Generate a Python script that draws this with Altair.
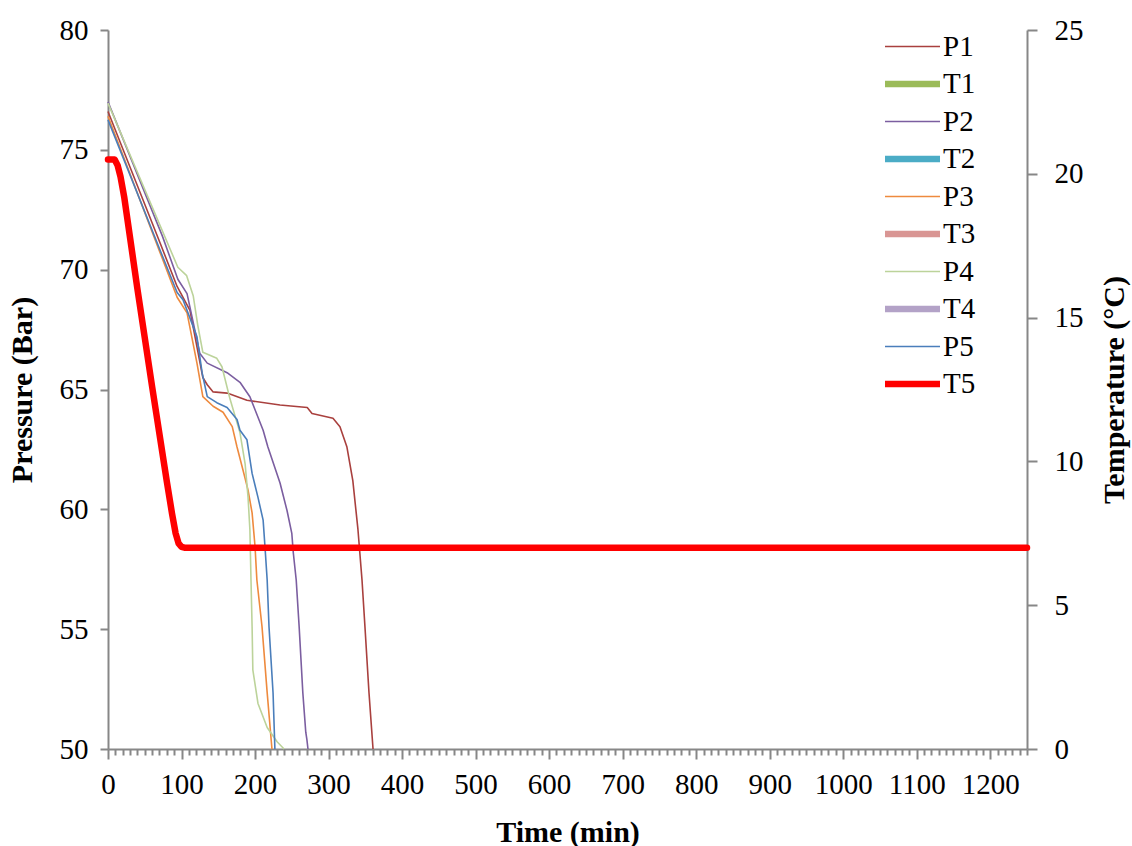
import altair as alt
import pandas as pd

# Series shown in the legend, in legend order, with their line colours and widths
series_names = ["P1", "T1", "P2", "T2", "P3", "T3", "P4", "T4", "P5", "T5"]
series_colors = ["#A9403E", "#9BBB59", "#7B5EA0", "#4BACC6", "#EE8A3E",
                 "#D99694", "#BCD39A", "#B3A2C7", "#4A7EBB", "#FF0000"]
series_widths = [1.6, 6.5, 1.6, 6.5, 1.6, 6.5, 1.6, 6.5, 1.6, 6.5]

# Pressure runs (Bar) against time (min)
p1_time = [0, 71, 94, 111.5, 129, 135, 143, 162, 189, 234, 271, 277.5, 306, 315.5,
           325, 333, 340, 345.5, 349.5, 355, 360.5]
p1_bar = [76.6, 71.1, 69.3, 68.3, 65.5, 65.2, 64.9, 64.85, 64.55, 64.35, 64.25, 64.0,
          63.8, 63.45, 62.6, 61.2, 59.15, 57.05, 55.1, 52.35, 50.0]

p2_time = [0, 74, 95, 107.5, 125, 135, 162, 179.5, 193, 211, 217.5, 234, 243.5, 250,
           252, 256, 260, 265, 269, 270.5, 272]
p2_bar = [77.0, 71.4, 69.6, 69.0, 66.5, 66.1, 65.7, 65.3, 64.7, 63.3, 62.6, 61.1, 59.95,
          59.0, 58.2, 57.05, 55.1, 52.35, 50.7, 50.4, 50.0]

p3_time = [0, 71, 94, 107.5, 121, 129, 143, 156.5, 169, 175.5, 183.5, 190.5, 196, 200,
           202.5, 209.5, 216.5, 223]
p3_bar = [76.4, 70.7, 68.85, 68.2, 66.1, 64.7, 64.3, 64.05, 63.45, 62.6, 61.65, 60.8,
          59.85, 58.45, 57.05, 55.1, 52.35, 50.0]

p4_time = [0, 95, 107, 116, 122, 129, 148, 155, 166, 179.5, 186.5, 190.5, 193, 194.5,
           196, 197, 204, 216.5, 230, 239.5]
p4_bar = [76.95, 70.1, 69.75, 68.9, 67.7, 66.55, 66.3, 65.95, 64.6, 63.2, 61.9, 60.5,
          59.15, 57.05, 55.1, 53.3, 51.9, 50.9, 50.3, 50.0]

p5_time = [0, 71, 94, 102, 121, 128, 135, 148, 162, 175.5, 179.5, 189, 196, 204, 211,
           213.5, 216.5, 219, 224.5, 227]
p5_bar = [76.25, 70.8, 69.05, 68.75, 67.2, 65.7, 64.7, 64.45, 64.25, 63.75, 63.3, 62.9,
          61.5, 60.5, 59.55, 58.45, 57.05, 55.1, 52.35, 50.0]

# Temperature run (°C) against time (min)
t5_time = [0, 9, 13, 17, 22, 40, 60, 80, 87, 92, 96, 100, 104, 1250]
t5_degc = [20.5, 20.5, 20.3, 19.9, 19.2, 16.0, 12.6, 9.3, 8.2, 7.5, 7.15, 7.03, 7.0, 7.0]

# Axis ticks
x_ticks = list(range(0, 1251, 10))
p_ticks = [50, 55, 60, 65, 70, 75, 80]
t_ticks = [0, 5, 10, 15, 20, 25]

pressure_runs = [("P1", p1_time, p1_bar), ("P2", p2_time, p2_bar), ("P3", p3_time, p3_bar),
                 ("P4", p4_time, p4_bar), ("P5", p5_time, p5_bar)]
pressure_df = pd.DataFrame(
    [{"series": name, "order": i, "time": t, "value": v}
     for name, ts, vs in pressure_runs for i, (t, v) in enumerate(zip(ts, vs))]
)
temperature_df = pd.DataFrame(
    [{"series": "T5", "order": i, "time": t, "value": v}
     for i, (t, v) in enumerate(zip(t5_time, t5_degc))]
)

FONT = "Liberation Serif"
AXIS_GREY = "#878787"

x_enc = alt.X(
    "time:Q",
    scale=alt.Scale(domain=[0, 1250], nice=False, zero=False),
    axis=alt.Axis(
        title="Time (min)",
        values=x_ticks,
        format="d",
        labelExpr="datum.value % 100 === 0 ? datum.label : ''",
        labelOverlap=False,
        labelFlush=False,
        tickSize={"condition": {"test": "datum.value % 100 === 0", "value": 10}, "value": 6},
        labelPadding=11,
        titlePadding=18,
        grid=False,
    ),
)

legend_spec = alt.Legend(
    title=None,
    orient="none",
    legendX=790,
    legendY=2,
    symbolType="M-2.5,0H2.5",
    symbolSize=484,
    labelOffset=16,
    rowPadding=7.5,
    padding=0,
    labelFont=FONT,
    labelFontSize=29,
    labelColor="#000000",
)

color_enc = alt.Color(
    "series:N",
    scale=alt.Scale(domain=series_names, range=series_colors),
    legend=legend_spec,
)
width_enc = alt.StrokeWidth(
    "series:N",
    scale=alt.Scale(type="ordinal", domain=series_names, range=series_widths),
    legend=legend_spec,
)

pressure = alt.Chart(pressure_df).mark_line(strokeJoin="round").encode(
    x=x_enc,
    y=alt.Y(
        "value:Q",
        scale=alt.Scale(domain=[50, 80], nice=False, zero=False),
        axis=alt.Axis(
            title="Pressure (Bar)",
            values=p_ticks,
            orient="left",
            tickSize=8,
            labelPadding=12,
            titlePadding=22,
            grid=False,
        ),
    ),
    color=color_enc,
    strokeWidth=width_enc,
    order="order:Q",
    detail="series:N",
)

temperature = alt.Chart(temperature_df).mark_line(strokeJoin="round", strokeCap="round").encode(
    x=x_enc,
    y=alt.Y(
        "value:Q",
        scale=alt.Scale(domain=[0, 25], nice=False, zero=True),
        axis=alt.Axis(
            title="Temperature (°C)",
            values=t_ticks,
            orient="right",
            tickSize=10,
            labelPadding=17,
            titlePadding=16,
            titleAngle=270,
            titleBaseline="top",
            grid=False,
        ),
    ),
    color=color_enc,
    strokeWidth=width_enc,
    order="order:Q",
    detail="series:N",
)

chart = (
    alt.layer(pressure, temperature)
    .resolve_scale(y="independent")
    .properties(
        width=919,
        height=719,
        autosize=alt.AutoSizeParams(type="none"),
        padding={"left": 108, "top": 30, "right": 105, "bottom": 97},
        background="#FFFFFF",
    )
    .configure_view(stroke=None)
    .configure_axis(
        domainColor=AXIS_GREY,
        domainWidth=2,
        tickColor=AXIS_GREY,
        tickWidth=2,
        labelFont=FONT,
        labelFontSize=29,
        labelColor="#000000",
        titleFont=FONT,
        titleFontSize=30,
        titleFontWeight="bold",
        titleColor="#000000",
    )
)

chart.save("out.html", embed_options={"renderer": "svg", "actions": False})
